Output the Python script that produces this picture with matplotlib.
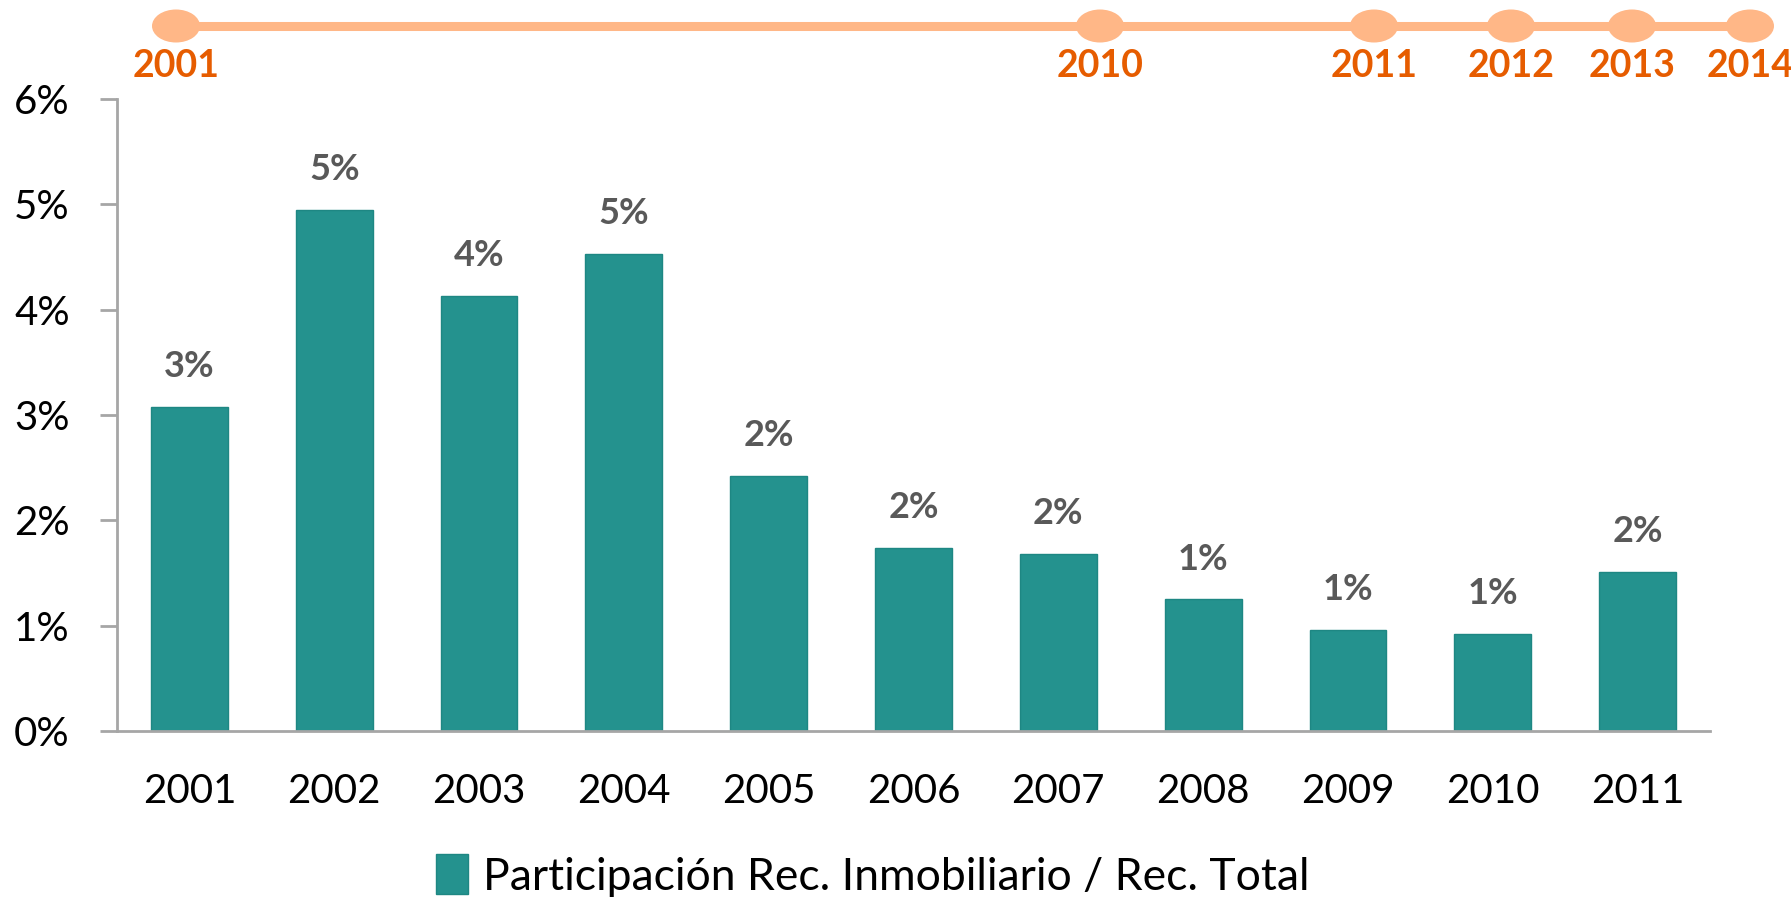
import matplotlib
matplotlib.use("Agg")
import matplotlib.pyplot as plt
from matplotlib.patches import Ellipse, Patch

plt.rcParams['font.family'] = ['Lato', 'DejaVu Sans']

years = ["2001", "2002", "2003", "2004", "2005", "2006", "2007", "2008", "2009", "2010", "2011"]
values = [3.08, 4.95, 4.13, 4.53, 2.42, 1.74, 1.68, 1.25, 0.96, 0.92, 1.51]
value_labels = ["3%", "5%", "4%", "5%", "2%", "2%", "2%", "1%", "1%", "1%", "2%"]
y_ticks = [0, 1, 2, 3, 4, 5, 6]
y_tick_labels = ["0%", "1%", "2%", "3%", "4%", "5%", "6%"]
legend_label = "Participación Rec. Inmobiliario / Rec. Total"

timeline_years = ["2001", "2010", "2011", "2012", "2013", "2014"]
timeline_x = [176, 1100, 1374, 1511, 1632, 1750]  # pixel layout positions

W, H = 1791, 897
fig = plt.figure(figsize=(W / 100, H / 100), dpi=100)

bar_color = "#24928E"
spine_color = "#A6A6A6"

ax = fig.add_axes([117 / W, 1 - 731 / H, (1710 - 117) / W, (731 - 99) / H])
x = list(range(len(years)))
ax.bar(x, values, width=0.53, color=bar_color, edgecolor="#1E8783", linewidth=1)
for xi, v, lab in zip(x, values, value_labels):
    ax.annotate(lab, (xi, v), xytext=(0, 17), textcoords="offset points",
                ha="center", va="bottom", fontsize=26, fontweight="bold", color="#595959")
ax.set_xlim(-0.5, len(years) - 0.5)
ax.set_ylim(0, 6)
ax.set_yticks(y_ticks)
ax.set_yticklabels(y_tick_labels, fontsize=29, color="#000000")
ax.set_xticks(x)
ax.set_xticklabels(years, fontsize=29, color="#000000")
ax.tick_params(axis="y", length=12, width=2, color=spine_color, pad=22)
ax.tick_params(axis="x", length=0, pad=30)
for s in ["top", "right"]:
    ax.spines[s].set_visible(False)
for s in ["left", "bottom"]:
    ax.spines[s].set_color(spine_color)
    ax.spines[s].set_linewidth(2)

leg = fig.legend(handles=[Patch(facecolor=bar_color, edgecolor="#1E8783")],
                 labels=[legend_label], loc="center", bbox_to_anchor=(873 / W, 1 - 876 / H),
                 frameon=False, fontsize=32, handlelength=0.7, handleheight=1.0,
                 handletextpad=0.35)

# timeline overlay
tl = fig.add_axes([0, 0, 1, 1])
tl.set_xlim(0, W)
tl.set_ylim(H, 0)
tl.axis("off")
tl.patch.set_alpha(0)
line_y = 26
peach = "#FFB787"
tl.plot([timeline_x[0], timeline_x[-1]], [line_y, line_y], color=peach, lw=6.5, solid_capstyle="butt", zorder=1)
for tx, ty in zip(timeline_x, timeline_years):
    tl.add_patch(Ellipse((tx, line_y), 48, 33, facecolor=peach, edgecolor="none", zorder=2))
    tl.text(tx, 66, ty, ha="center", va="center", fontsize=27, fontweight="bold", color="#E65C00")

fig.savefig("out.png", dpi=100)
